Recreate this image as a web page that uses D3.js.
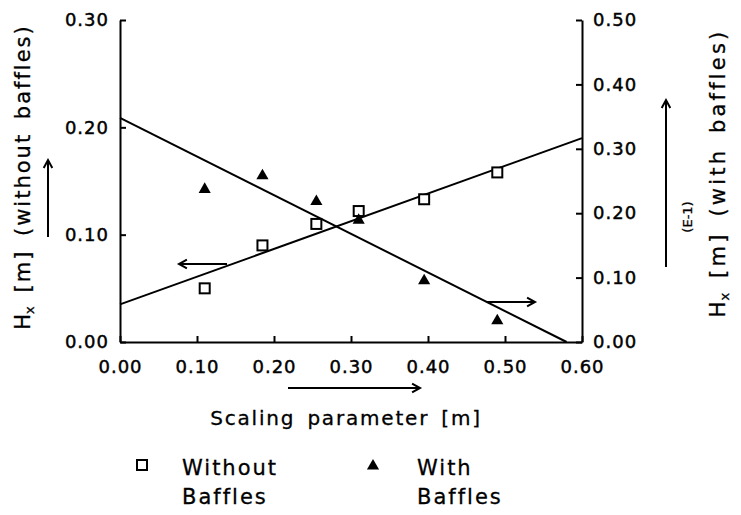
<!DOCTYPE html>
<html>
<head>
<meta charset="utf-8">
<script src="https://cdn.jsdelivr.net/npm/d3@7"></script>
<style>
  html, body { margin: 0; padding: 0; background: #fff; }
  svg { display: block; }
  text { font-family: "DejaVu Sans", sans-serif; fill: #000; }
</style>
</head>
<body>
<svg id="chart" width="741" height="515"></svg>
<script>
// ---- data ----
const scaling = [0.11, 0.185, 0.255, 0.31, 0.395, 0.49];
const withoutBaffles = [0.050, 0.090, 0.110, 0.122, 0.133, 0.158];
const withBaffles = [0.237, 0.258, 0.218, 0.189, 0.095, 0.033];
const withoutFitX = [0, 0.6];
const withoutFitY = [0.035, 0.190];
const withFitX = [0, 0.58];
const withFitY = [0.348, 0];
const xTicks = [0, 0.1, 0.2, 0.3, 0.4, 0.5, 0.6];
const yLeftTicks = [0, 0.1, 0.2, 0.3];
const yRightTicks = [0, 0.1, 0.2, 0.3, 0.4, 0.5];

const svg = d3.select("#chart");
const x = d3.scaleLinear([0, 0.6], [120, 582]);
const yL = d3.scaleLinear([0, 0.3], [342, 20]);
const yR = d3.scaleLinear([0, 0.5], [342, 20]);
const fmt = d3.format(".2f");

function styleAxis(g, fs, ls) {
  g.selectAll("path.domain").attr("stroke", "#000").attr("stroke-width", 2);
  g.selectAll(".tick line").attr("stroke", "#000").attr("stroke-width", 2);
  g.selectAll(".tick text").attr("font-family", "DejaVu Sans, sans-serif")
    .attr("font-size", fs).attr("letter-spacing", ls).attr("fill", "#000")
    .attr("stroke", "#000").attr("stroke-width", 0.45);
}

const gx = svg.append("g").attr("transform", "translate(0,342)")
  .call(d3.axisBottom(x).tickValues(xTicks).tickFormat(fmt).tickSizeInner(-6).tickSizeOuter(0).tickPadding(18));
styleAxis(gx, 18, 1);

const gyl = svg.append("g").attr("transform", "translate(120,0)")
  .call(d3.axisLeft(yL).tickValues(yLeftTicks).tickFormat(fmt).tickSizeInner(-6).tickSizeOuter(0).tickPadding(11));
styleAxis(gyl, 18, 1);

const gyr = svg.append("g").attr("transform", "translate(582,0)")
  .call(d3.axisRight(yR).tickValues(yRightTicks).tickFormat(fmt).tickSizeInner(-6).tickSizeOuter(0).tickPadding(11));
styleAxis(gyr, 18, 1);

// ---- fit lines ----
const lineL = d3.line().x(d => x(d[0])).y(d => yL(d[1]));
const lineR = d3.line().x(d => x(d[0])).y(d => yR(d[1]));
svg.append("path").attr("d", lineL(d3.zip(withoutFitX, withoutFitY)))
  .attr("fill", "none").attr("stroke", "#000").attr("stroke-width", 2);
svg.append("path").attr("d", lineR(d3.zip(withFitX, withFitY)))
  .attr("fill", "none").attr("stroke", "#000").attr("stroke-width", 2);

// ---- markers ----
svg.append("g").selectAll("rect").data(d3.zip(scaling, withoutBaffles)).join("rect")
  .attr("x", d => x(d[0]) - 5).attr("y", d => yL(d[1]) - 5)
  .attr("width", 10).attr("height", 10)
  .attr("fill", "#fff").attr("stroke", "#000").attr("stroke-width", 2);

const tri = d3.symbol().type(d3.symbolTriangle).size(64);
svg.append("g").selectAll("path").data(d3.zip(scaling, withBaffles)).join("path")
  .attr("d", tri)
  .attr("transform", d => `translate(${x(d[0])},${yR(d[1])})`)
  .attr("fill", "#000");

// ---- arrows ----
function arrow(x1, y1, x2, y2) {
  const ang = Math.atan2(y2 - y1, x2 - x1);
  const L = 9, W = 0.5;
  const p1 = [x2 - L * Math.cos(ang - W), y2 - L * Math.sin(ang - W)];
  const p2 = [x2 - L * Math.cos(ang + W), y2 - L * Math.sin(ang + W)];
  svg.append("path")
    .attr("d", `M${x1},${y1}L${x2},${y2}M${p1[0]},${p1[1]}L${x2},${y2}L${p2[0]},${p2[1]}`)
    .attr("fill", "none").attr("stroke", "#000").attr("stroke-width", 2)
    .attr("stroke-linejoin", "miter");
}
arrow(227, 264, 179, 264);
arrow(487, 302, 535, 302);
arrow(288, 388, 420, 388);
arrow(48, 237, 48, 160);
arrow(666, 267, 666, 100);

// ---- axis titles ----
svg.append("text").attr("x", 346).attr("y", 425).attr("text-anchor", "middle")
  .attr("font-size", 20).attr("letter-spacing", 1.8).attr("word-spacing", 4)
  .attr("stroke", "#000").attr("stroke-width", 0.3)
  .text("Scaling parameter [m]");

function yTitle(cx, cy, rest, ls) {
  const t = svg.append("text")
    .attr("transform", `translate(${cx},${cy}) rotate(-90)`)
    .attr("text-anchor", "middle")
    .attr("font-size", 21).attr("letter-spacing", ls).attr("word-spacing", 5)
    .attr("stroke", "#000").attr("stroke-width", 0.3);
  t.append("tspan").text("H");
  t.append("tspan").attr("font-size", 13).attr("dy", 4).attr("letter-spacing", 0).attr("dx", -2).text("x");
  t.append("tspan").attr("dy", -4).text(rest);
}
yTitle(30, 177, " [m] (without baffles)", 2);
yTitle(725, 173, " [m] (with baffles)", 3.2);

svg.append("text").attr("transform", "translate(692,217) rotate(-90)")
  .attr("text-anchor", "middle").attr("font-size", 13)
  .attr("stroke", "#000").attr("stroke-width", 0.3).text("(E-1)");

// ---- legend ----
svg.append("rect").attr("x", 137).attr("y", 460).attr("width", 10).attr("height", 10)
  .attr("fill", "#fff").attr("stroke", "#000").attr("stroke-width", 2);
svg.append("path").attr("d", tri).attr("transform", "translate(373,466)").attr("fill", "#000");

const legendText = [["Without", "Baffles", 182], ["With", "Baffles", 417]];
legendText.forEach(([a, b, lx]) => {
  svg.append("text").attr("x", lx).attr("y", 475).attr("font-size", 21).attr("letter-spacing", 2)
    .attr("stroke", "#000").attr("stroke-width", 0.3).text(a);
  svg.append("text").attr("x", lx).attr("y", 504).attr("font-size", 21).attr("letter-spacing", 2)
    .attr("stroke", "#000").attr("stroke-width", 0.3).text(b);
});
</script>
</body>
</html>
